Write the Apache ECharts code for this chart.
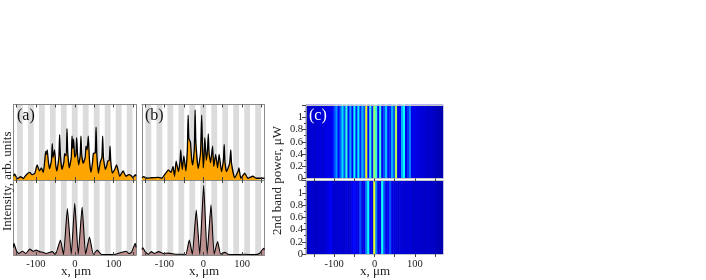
<!DOCTYPE html>
<html><head><meta charset="utf-8">
<style>html,body{margin:0;padding:0;background:#fff}#c{width:706px;height:280px}</style>
<script src="https://cdn.jsdelivr.net/npm/echarts@6/dist/echarts.min.js"></script>
</head><body><div id="c"></div>
<script>
const xTopA=[-158,-155,-150,-146,-140,-133,-125,-116,-110,-103,-97,-91,-86,-81,-77,-75,-73,-71,-68,-65,-60,-58,-56,-52,-49,-46,-41,-39,-37,-33,-28,-26,-22,-20,-18,-14,-9,-7,-5,-3,0,3,5,7,10,14,16,18,22,27,29,32,35,38,42,46,48,53,55,57,61,66,70,72,74,79,83,85,89,91,93,97,103,108,116,125,132,139,145,150,156,158];
const yTopA=[5,8,3,2,4.5,2,7,10,7,9,20,12,16,10,28,38,34,40,24,15,26,48,30,40,20,12,30,60,32,14,24,35,32,68,36,16,30,58,42,54,30,34,56,36,20,32,58,34,22,30,45,40,58,26,10,24,35,36,70,34,9,24,30,58,30,14,20,25,26,45,24,9,14,20,5,12,5,7,6,3,7,5];
const xTopB=[-158,-154,-145,-133,-115,-107,-97,-90,-83,-78,-74,-70,-64,-60,-58,-56,-54,-50,-45,-41,-39,-37,-33,-30,-27,-23,-21,-19,-13,-7,-4,-2,0,2,4,8,11,13,15,19,24,27,32,37,41,47,52,54,56,60,68,71,73,81,90,92,97,107,115,128,137,154,158];
const yTopB=[3,4.5,2.3,3,3.6,2.3,9,13.5,10,18,5,25,11,24,40,24,14,32,12,40,86,55,50,28,20,42,93,50,15,36,86,44,16,30,56,26,40,61,36,23,45,18,34,16,34,11,26,47,24,11,22,40,22,3,12,16,2.3,9,2.3,5,2.3,2.3,2];
const xBotA=[-158,-157,-150,-144,-135,-126,-116,-108,-99,-91,-82,-74,-58,-50,-37,-29,-19,-9,0,9,19,28,38,48,58,68,89,106,132,140,147,156,158];
const yBotA=[10,15.5,5,2,5,2,8,5,6.5,4.5,3.5,2,4.5,0.5,20,0.5,62,1,69,1,64,1,24,1,6.5,1,0.5,1,5,2,4,15.5,10];
const xBotB=[-158,-156,-150,-141,-134,-126,-115,-103,-90,-68,-56,-45,-36,-28,-18,-9,1,10,20,28,37,45,56,64,81,107,132,145,156,158];
const yBotB=[7,10,4.5,1,4.5,2,4.5,2,2.5,1,1,0.5,20,1,60,1,93,1,67,1,18,1,3.5,1,0.5,1,0.5,2,9,7];
const stripeCenters=[-141.5,-113.2,-84.9,-56.6,-28.3,0,28.3,56.6,84.9,113.2,141.5];
const heatColumns=[306,308,310,312,314,316,318,320,322,324,326,328,330,332,334,336,338,340,342,344,346,348,350,352,354,356,358,360,362,364,366,368,370,372,374,376,378,380,382,384,386,388,390,392,394,396,398,400,402,404,406,408,410,412,414,416,418,420,422,424,426,428,430,432,434,436,438,440,442];
const heatTop=[.07,.07,.08,.09,.07,.09,.08,.1,.08,.1,.1,.11,.1,.12,.2,.27,.13,.22,.34,.2,.42,.14,.3,.12,.38,.15,.36,.16,.3,.2,.6,.13,.42,.16,.52,.42,.13,.42,.12,.2,.32,.14,.16,.3,.2,.55,.1,.12,.3,.38,.1,.18,.25,.1,.11,.1,.09,.1,.08,.09,.08,.07,.08,.07,.07,.06,.06,.05,.05];
const heatBot=[.07,.07,.08,.08,.07,.07,.08,.08,.07,.08,.09,.1,.12,.09,.08,.08,.08,.09,.08,.08,.09,.08,.08,.11,.13,.1,.1,.2,.1,.1,.25,.38,.12,.1,.6,.25,.1,.1,.38,.2,.1,.12,.2,.1,.09,.09,.08,.09,.09,.08,.09,.08,.09,.08,.07,.08,.08,.07,.08,.07,.07,.08,.07,.07,.07,.06,.06,.05,.05];
const heatRows=['all'];
const xTicks=[-150,-100,-50,0,50,100,150];
const xLabels=[-100,0,100];

const font='"Liberation Serif"', ink='#222', frame='#8a8a8a';
const grids=[],xAxes=[],yAxes=[],series=[];
function xPair(g,range,labels,isHeat){
  const mk=(pos,extraTick)=>({type:'value',gridIndex:g,min:-range,max:range,splitLine:{show:false},position:pos,z:5,
    axisLine:{show:true,onZero:false,lineStyle:{color:isHeat?'#c4c4c4':frame,width:1}},
    axisTick:Object.assign({show:true,inside:!isHeat,length:3,customValues:xTicks,lineStyle:{color:'#444',width:1}},extraTick),
    axisLabel:{show:false}});
  const bottom=mk('bottom',{});
  bottom.axisLabel={show:labels,customValues:xLabels,fontFamily:font,fontSize:10.5,color:ink,margin:isHeat?5:4};
  const top=mk('top',isHeat?{show:false}:{});
  xAxes.push(bottom,top);
  return xAxes.length-2;
}
function profile(box,xs,ys,fill,labels,lw){
  const g=grids.length;
  grids.push(Object.assign({show:false},box));
  const xi=xPair(g,158,labels,false);
  const yBase={type:'value',gridIndex:g,min:0,max:100,splitLine:{show:false},axisLabel:{show:false},axisTick:{show:false},
    axisLine:{show:true,onZero:false,lineStyle:{color:frame}}};
  yAxes.push(Object.assign({},yBase),Object.assign({},yBase,{position:'right'}));
  const yi=yAxes.length-2;
  series.push({type:'line',xAxisIndex:xi,yAxisIndex:yi,data:xs.map((x,i)=>[x,ys[i]]),symbol:'none',silent:true,animation:false,
    smooth:0.15,lineStyle:{color:'#000',width:lw},areaStyle:{color:fill,opacity:1},z:3,
    markArea:{silent:true,z:1,itemStyle:{color:'#dcdcdc'},label:{show:false},
      data:stripeCenters.map(c=>[{xAxis:c-7.5},{xAxis:c+7.5}])}});
}
function heat(box,vals,labels){
  const g=grids.length;
  grids.push(Object.assign({show:false},box));
  const xi=xPair(g,170,labels,true);
  yAxes.push({type:'value',gridIndex:g,min:0,max:1.2,interval:0.2,splitLine:{show:false},z:5,
    axisLine:{show:true,onZero:false,lineStyle:{color:frame}},
    axisTick:{show:true,length:4,inside:false,lineStyle:{color:'#444'}},minorTick:{show:true,splitNumber:2,length:2,lineStyle:{color:'#444'}},
    axisLabel:{fontFamily:font,fontSize:10.5,color:ink,margin:3,formatter:v=>v>1.05?'':String(+v.toFixed(1))}});
  const yi=yAxes.length-1;
  const cx=xAxes.length;
  xAxes.push({type:'category',gridIndex:g,data:heatColumns.map(String),show:false,boundaryGap:true});
  yAxes.push({type:'category',gridIndex:g,data:heatRows,show:false,boundaryGap:true});
  series.push({type:'heatmap',xAxisIndex:cx,yAxisIndex:yAxes.length-1,data:vals.map((v,i)=>[i,0,v]),silent:true,animation:false,progressive:0,z:2});
  series.push({type:'line',xAxisIndex:xi,yAxisIndex:yi,data:[],silent:true});
}
const W=122.5;
profile({left:13.5,top:104.5,width:W,height:75.5},xTopA,yTopA,'#ffa500',false,1.3);
profile({left:13.5,top:180,width:W,height:75},xBotA,yBotA,'#bc8f8f',true,1.1);
profile({left:142,top:104.5,width:W,height:75.5},xTopB,yTopB,'#ffa500',false,1.3);
profile({left:142,top:180,width:W,height:75},xBotB,yBotB,'#bc8f8f',true,1.1);
heat({left:306,top:105,width:137,height:73.5},heatTop,false);
heat({left:306,top:180.5,width:137,height:73.5},heatBot,true);

const graphic=[
 {type:'text',z:20,x:17,y:108,style:{text:'(a)',font:`16px ${font}`,fill:'#111'}},
 {type:'text',z:20,x:145,y:108,style:{text:'(b)',font:`16px ${font}`,fill:'#111'}},
 {type:'text',z:20,x:309,y:108,style:{text:'(c)',font:`16px ${font}`,fill:'#fff'}},
 {type:'text',z:20,x:61,y:265,style:{text:'x, μm',font:`13px ${font}`,fill:ink}},
 {type:'text',z:20,x:189,y:265,style:{text:'x, μm',font:`13px ${font}`,fill:ink}},
 {type:'text',z:20,x:360,y:265,style:{text:'x, μm',font:`13px ${font}`,fill:ink}},
 {type:'text',z:20,x:1,y:231,rotation:Math.PI/2,style:{text:'Intensity, arb. units',font:`13px ${font}`,fill:ink}},
 {type:'text',z:20,x:271,y:235,rotation:Math.PI/2,style:{text:'2nd band power, μW',font:`13px ${font}`,fill:ink}}
];
const chart=echarts.init(document.getElementById('c'),null,{renderer:'canvas'});
chart.setOption({animation:false,backgroundColor:'#fff',grid:grids,xAxis:xAxes,yAxis:yAxes,series,graphic,
 visualMap:[{show:false,type:'continuous',min:0,max:1,seriesIndex:series.map((s,i)=>s.type==='heatmap'?i:-1).filter(i=>i>=0),
  inRange:{color:['#00007f','#0000ff','#007fff','#00ffff','#7fff7f','#ffff00','#ff7f00','#ff0000','#7f0000']}}]});
</script></body></html>
